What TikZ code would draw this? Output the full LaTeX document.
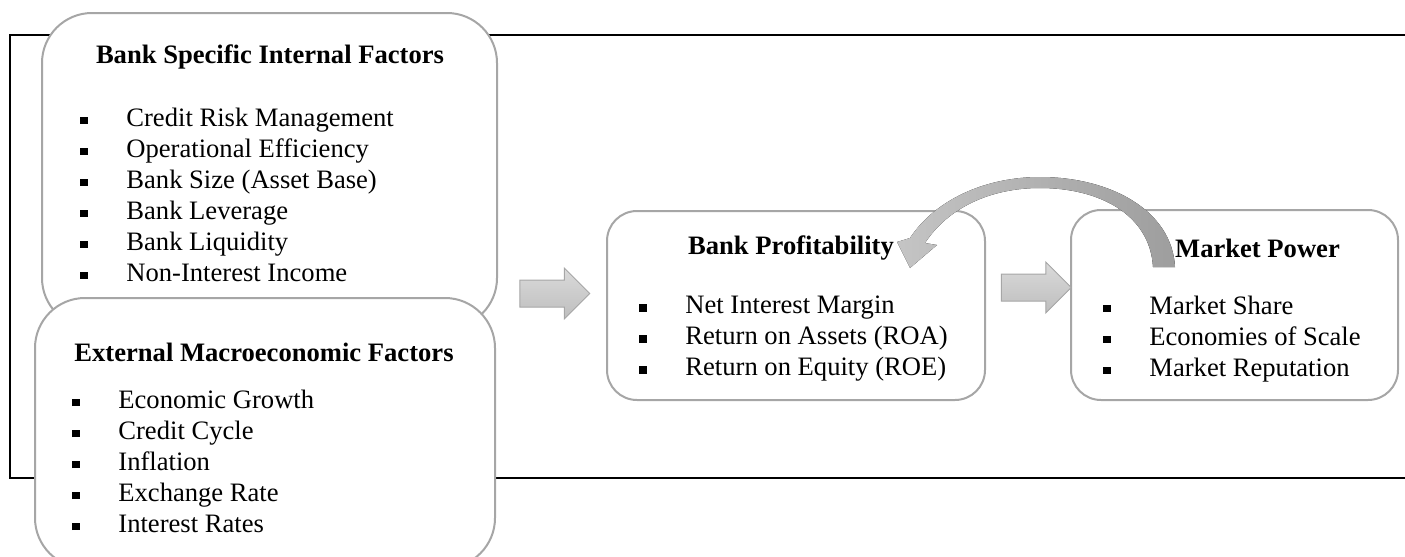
\documentclass[tikz,border=0pt]{standalone}
\usepackage{fontspec}
\setmainfont{Liberation Serif}
\usepackage{tikz}
\usetikzlibrary{shapes.arrows}
\usetikzlibrary{positioning}
\definecolor{boxgray}{HTML}{A6A6A6}
\definecolor{arrlight}{HTML}{DADADA}
\definecolor{arrdark}{HTML}{BEBEBE}
\newcommand{\itm}{\makebox[23pt][l]{\rule[1.2pt]{3.6pt}{3.6pt}}}
\tikzset{rbox/.style = {draw = boxgray, line width = 1pt, fill = white, rounded corners = 25pt, inner sep = 0}}
\tikzset{sbox/.style = {rbox, rounded corners = 15pt}}
\tikzset{ttl/.style = {font = \fontsize{13.3}{15.5}\selectfont\bfseries, inner sep = 0}}
\tikzset{lst/.style = {font = \fontsize{13.3}{15.5}\selectfont, align = left, anchor = west, inner sep = 0}}
\tikzset{blk/.style = {single arrow, draw = boxgray, line width = 0.5pt, top color = arrlight, bottom color = arrdark,
    inner xsep = 0, inner ysep = 6.5pt, single arrow head extend = 6pt, single arrow head indent = 0,
    single arrow tip angle = 90, minimum height = 35pt}}

\begin{document}
\begin{tikzpicture}[x = 0.5pt, y = -0.5pt]

    \useasboundingbox (0, 0) rectangle (1405, 557);

    % frame
    \draw [line width = 1pt] (1406, 35) -- (10, 35) -- (10, 478) -- (1406, 478);

    % boxes
    \node [rbox, minimum width = 227.5pt, minimum height = 157.5pt] (inbox) at (269.5, 170.5) {};
    \node [rbox, minimum width = 230pt, minimum height = 135pt] (exbox) at (265, 433) {};
    \node [sbox, minimum width = 189pt, minimum height = 94.5pt] (profbox) at (796, 305.5) {};
    \node [sbox, minimum width = 163.5pt, minimum height = 95pt] (powbox) at (1234.5, 305) {};

    \node [ttl] (intitle) at (270, 57) {Bank Specific Internal Factors};
    \node [lst] (inlist) at (80, 194.5) {\itm Credit Risk Management\\ \itm Operational Efficiency\\
        \itm Bank Size (Asset Base)\\ \itm Bank Leverage\\ \itm Bank Liquidity\\ \itm Non-Interest Income};

    \node [ttl] (extitle) at (264, 352) {External Macroeconomic Factors};
    \node [lst] (exlist) at (72, 461.5) {\itm Economic Growth\\ \itm Credit Cycle\\ \itm Inflation\\
        \itm Exchange Rate\\ \itm Interest Rates};

    \node [ttl] (proftitle) at (791, 248) {Bank Profitability};
    \node [lst] (proflist) at (639, 339) {\itm Net Interest Margin\\ \itm Return on Assets (ROA)\\
        \itm Return on Equity (ROE)};

    \node [ttl] (powtitle) at (1257.5, 248) {Market Power};
    \node [lst] (powlist) at (1103, 339) {\itm Market Share\\ \itm Economies of Scale\\ \itm Market Reputation};

    % block arrows
    \node [blk] (arrA) at (548, 293.5) {};
    \node [blk] (arrB) at (1029.5, 287.5) {};

    % feedback arrow
    \fill [left color = arrdark!90, right color = boxgray!95!black] (1175, 267) .. controls (1172, 210) and (1110, 177) .. (1040, 177)
        .. controls (985, 177) and (935, 200) .. (910, 238) -- (897, 242) -- (910, 268) -- (937, 245) -- (925, 243)
        .. controls (948, 208) and (990, 188) .. (1040, 188) .. controls (1100, 188) and (1150, 215) .. (1153, 267) -- cycle;
  \end{tikzpicture}
\end{document}
